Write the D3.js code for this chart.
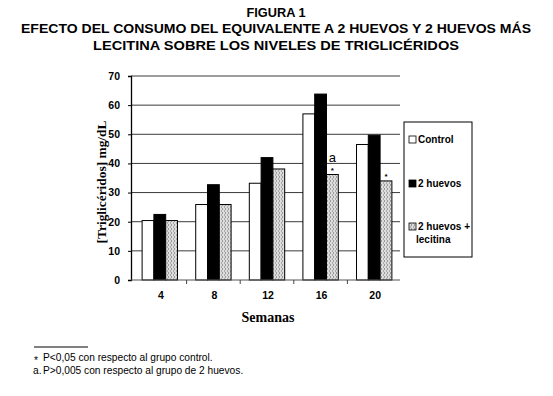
<!DOCTYPE html>
<html><head><meta charset="utf-8">
<script src="https://cdn.jsdelivr.net/npm/d3@7"></script>
<style>body{margin:0;background:#fff}svg{display:block}</style>
</head><body>
<script>
const weeks = ["4", "8", "12", "16", "20"];
const seriesNames = ["Control", "2 huevos", "2 huevos + lecitina"];
const control = [20.4, 25.9, 33.2, 57.0, 46.5];
const huevos = [22.5, 32.7, 42.0, 63.8, 49.7];
const lecitina = [20.4, 25.9, 38.1, 36.2, 34.0];
const yTicks = [0, 10, 20, 30, 40, 50, 60, 70];
const titleLines = ["FIGURA 1", "EFECTO DEL CONSUMO DEL EQUIVALENTE A 2 HUEVOS Y 2 HUEVOS MÁS", "LECITINA SOBRE LOS NIVELES DE TRIGLICÉRIDOS"];
const footnotes = ["P<0,05 con respecto al grupo control.", "P>0,005 con respecto al grupo de 2 huevos."];
const annotations = [{week: "16", text: "a", big: true}, {week: "16", text: "*"}, {week: "20", text: "*"}];

const W = 553, H = 396;
const svg = d3.select("body").append("svg").attr("width", W).attr("height", H);
const defs = svg.append("defs");
const pat = defs.append("pattern").attr("id", "stip").attr("patternUnits", "userSpaceOnUse").attr("width", 3).attr("height", 4);
pat.append("rect").attr("width", 3).attr("height", 4).attr("fill", "#dcdcdc");
pat.append("rect").attr("x", 0).attr("y", 0).attr("width", 1).attr("height", 2).attr("fill", "#9a9a9a");
pat.append("rect").attr("x", 2).attr("y", 2).attr("width", 1).attr("height", 2).attr("fill", "#aaaaaa");

const fills = ["#ffffff", "#000000", "url(#stip)"];
const sans = "'Liberation Sans', Arial, sans-serif";
const serif = "'Liberation Serif', 'Times New Roman', serif";

// Title
const tY = [17, 33, 49.5];
const tLen = [59, 510, 366];
titleLines.forEach((t, i) => {
  svg.append("text").attr("x", 276).attr("y", tY[i]).attr("text-anchor", "middle")
    .attr("font-family", sans).attr("font-weight", "bold").attr("font-size", 12.8)
    .attr("textLength", tLen[i]).attr("lengthAdjust", "spacingAndGlyphs").text(t);
});

const x0 = d3.scaleBand().domain(weeks).range([133, 401]).paddingInner(0.34).paddingOuter(0.17);
const x1 = d3.scaleBand().domain(seriesNames).range([0, x0.bandwidth()]);
const y = d3.scaleLinear().domain([0, 70]).range([280, 76]);
const axisX = 131, plotRight = 400;

// gridlines
svg.append("g").selectAll("line").data(yTicks.filter(d => d > 0)).join("line")
  .attr("x1", axisX).attr("x2", plotRight).attr("y1", d => y(d)).attr("y2", d => y(d))
  .attr("stroke", "#3a3a3a").attr("stroke-width", 1);

// bars
const values = [control, huevos, lecitina];
const data = [];
weeks.forEach((w, i) => seriesNames.forEach((s, j) => data.push({w, s, j, v: values[j][i]})));
svg.append("g").selectAll("rect").data(data).join("rect")
  .attr("x", d => x0(d.w) + x1(d.s)).attr("width", x1.bandwidth())
  .attr("y", d => y(d.v)).attr("height", d => y(0) - y(d.v))
  .attr("fill", d => fills[d.j]).attr("stroke", "#000").attr("stroke-width", 1);

// y axis
const yAxis = svg.append("g").attr("transform", `translate(${axisX},0)`)
  .call(d3.axisLeft(y).tickValues(yTicks).tickSize(3).tickPadding(8));
yAxis.select(".domain").attr("stroke", "#000").attr("stroke-width", 1.3);
yAxis.selectAll("text").attr("font-family", sans).attr("font-weight", "bold").attr("font-size", 10.5).attr("fill", "#000");

// x axis
svg.append("line").attr("x1", axisX).attr("x2", plotRight).attr("y1", y(0)).attr("y2", y(0)).attr("stroke", "#555");
const boundaries = weeks.slice(1).map(w => x0(w) - x0.step() * x0.paddingInner() / 2);
svg.append("g").selectAll("line").data(boundaries).join("line")
  .attr("x1", d => d).attr("x2", d => d).attr("y1", y(0)).attr("y2", y(0) + 4).attr("stroke", "#444");
svg.append("g").selectAll("text").data(weeks).join("text")
  .attr("x", d => x0(d) + x0.bandwidth() / 2 + 1).attr("y", 299).attr("text-anchor", "middle")
  .attr("font-family", sans).attr("font-weight", "bold").attr("font-size", 10.5).text(d => d);

// axis titles
svg.append("text").attr("x", 268).attr("y", 322).attr("text-anchor", "middle")
  .attr("font-family", serif).attr("font-weight", "bold").attr("font-size", 14).text("Semanas");
svg.append("text").attr("transform", "translate(106,182) rotate(-90)").attr("text-anchor", "middle")
  .attr("font-family", serif).attr("font-weight", "bold").attr("font-size", 13.4).text("[Triglicéridos] mg/dL");

// annotations
annotations.forEach(a => {
  const cx = x0(a.week) + x1(seriesNames[2]) + x1.bandwidth() / 2;
  const top = y(lecitina[weeks.indexOf(a.week)]);
  svg.append("text").attr("x", cx).attr("y", a.big ? top - 13 : top - 2).attr("text-anchor", "middle")
    .attr("font-family", sans).attr("font-weight", a.big ? "normal" : "bold")
    .attr("font-size", a.big ? 13 : 8).text(a.text);
});

// legend
const lg = svg.append("g");
lg.append("rect").attr("x", 404).attr("y", 122).attr("width", 68).attr("height", 135)
  .attr("fill", "#fff").attr("stroke", "#000").attr("stroke-width", 1);
const legY = [143, 187, 230];
seriesNames.forEach((s, j) => {
  lg.append("rect").attr("x", 409).attr("y", legY[j] - 7).attr("width", 7).attr("height", 7)
    .attr("fill", fills[j]).attr("stroke", "#000").attr("stroke-width", 0.8);
  const label = j === 2 ? ["2 huevos +", "lecitina"] : [s];
  label.forEach((l, k) => {
    lg.append("text").attr("x", k === 0 ? 418 : 416).attr("y", legY[j] + k * 12.5)
      .attr("font-family", sans).attr("font-weight", "bold").attr("font-size", 10).text(l);
  });
});

// footnotes
svg.append("line").attr("x1", 34).attr("x2", 88).attr("y1", 347).attr("y2", 347).attr("stroke", "#000").attr("stroke-width", 1);
svg.append("text").attr("x", 34).attr("y", 364).attr("font-family", sans).attr("font-size", 10.2).text("*");
svg.append("text").attr("x", 43).attr("y", 361).attr("font-family", sans).attr("font-size", 10.2).text(footnotes[0]);
svg.append("text").attr("x", 33).attr("y", 374).attr("font-family", sans).attr("font-size", 10.2).text("a.");
svg.append("text").attr("x", 43).attr("y", 374).attr("font-family", sans).attr("font-size", 10.2).text(footnotes[1]);
</script>
</body></html>
